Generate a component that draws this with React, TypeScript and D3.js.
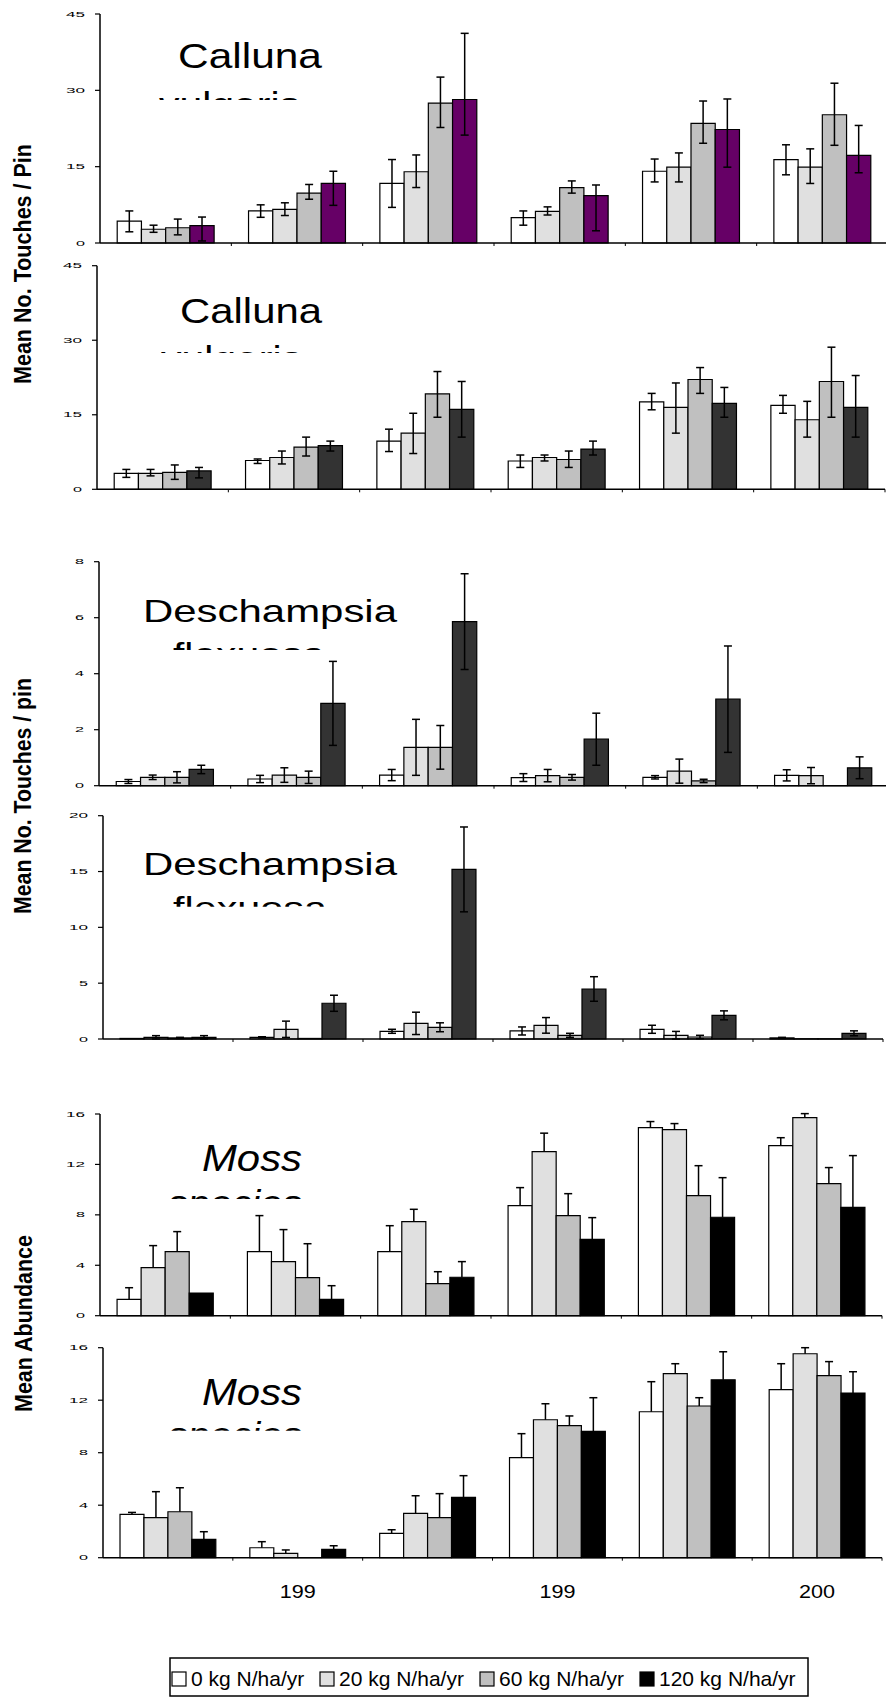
import React from "react";
import * as d3 from "d3";

const width = 886;
const height = 1697;
const font = "'Liberation Sans', Arial, sans-serif";

// six sampling dates, only some labelled on the bottom axis
const categories = ["d1", "d2", "d3", "d4", "d5", "d6"];
const xLabels = ["", "199", "", "199", "", "200"];
const treatments = ["0 kg N/ha/yr", "20 kg N/ha/yr", "60 kg N/ha/yr", "120 kg N/ha/yr"];

// Calluna vulgaris (top)
const callunaAMean = [
  [4.3, 6.3, 11.7, 5.0, 14.1, 16.4],
  [2.7, 6.6, 14.0, 6.2, 14.9, 14.9],
  [3.0, 9.8, 27.5, 10.9, 23.5, 25.2],
  [3.4, 11.7, 28.2, 9.3, 22.3, 17.2],
];
const callunaAUp = [
  [2.0, 1.2, 4.7, 1.3, 2.4, 2.9],
  [0.8, 1.3, 3.3, 0.9, 2.8, 3.6],
  [1.7, 1.7, 5.1, 1.3, 4.4, 6.2],
  [1.7, 2.4, 13.0, 2.1, 6.0, 5.9],
];
const callunaADown = [
  [2.1, 1.25, 4.7, 1.5, 2.1, 3.0],
  [0.6, 1.2, 3.1, 0.7, 2.9, 3.2],
  [1.4, 1.2, 4.8, 1.1, 3.9, 6.0],
  [3.0, 4.3, 7.0, 6.9, 7.4, 3.4],
];

// Calluna vulgaris (second)
const callunaBMean = [
  [3.2, 5.8, 9.7, 5.7, 17.6, 16.9],
  [3.2, 6.4, 11.3, 6.4, 16.5, 14.0],
  [3.4, 8.5, 19.2, 6.0, 22.1, 21.7],
  [3.7, 8.8, 16.1, 8.1, 17.3, 16.5],
];
const callunaBUp = [
  [0.8, 0.3, 2.4, 1.2, 1.7, 2.0],
  [0.8, 1.3, 4.0, 0.5, 4.9, 3.7],
  [1.5, 2.0, 4.5, 1.7, 2.4, 6.9],
  [0.7, 0.9, 5.6, 1.6, 3.2, 6.4],
];
const callunaBDown = [
  [0.8, 0.6, 2.1, 1.3, 1.6, 1.6],
  [0.5, 1.3, 4.1, 0.7, 5.2, 3.5],
  [1.4, 1.8, 4.7, 1.6, 2.8, 7.2],
  [1.4, 1.1, 5.6, 1.2, 2.8, 6.0],
];

// Deschampsia flexuosa (first, 0-8)
const deschAMean = [
  [0.15, 0.24, 0.38, 0.29, 0.3, 0.37],
  [0.3, 0.38, 1.37, 0.36, 0.52, 0.36],
  [0.3, 0.3, 1.37, 0.3, 0.17, 0],
  [0.58, 2.94, 5.86, 1.66, 3.09, 0.64],
];
const deschAErr = [
  [0.07, 0.13, 0.2, 0.14, 0.06, 0.2],
  [0.08, 0.26, 1.0, 0.22, 0.43, 0.29],
  [0.2, 0.22, 0.78, 0.1, 0.06, 0],
  [0.15, 1.5, 1.71, 0.93, 1.9, 0.39],
];

// Deschampsia flexuosa (second, 0-20)
const deschBMean = [
  [0.05, 0.15, 0.69, 0.72, 0.87, 0.1],
  [0.15, 0.87, 1.4, 1.22, 0.33, 0.02],
  [0.1, 0.05, 1.05, 0.33, 0.18, 0.02],
  [0.15, 3.2, 15.19, 4.48, 2.12, 0.51],
];
const deschBErr = [
  [0, 0.05, 0.18, 0.36, 0.36, 0.05],
  [0.15, 0.73, 1.0, 0.7, 0.35, 0],
  [0.05, 0, 0.4, 0.18, 0.15, 0],
  [0.15, 0.72, 3.8, 1.1, 0.4, 0.22],
];

// Moss species (first)
const mossAMean = [
  [1.3, 5.08, 5.08, 8.73, 14.92, 13.49],
  [3.81, 4.29, 7.46, 13.02, 14.76, 15.71],
  [5.08, 3.02, 2.54, 7.94, 9.52, 10.48],
  [1.8, 1.3, 3.05, 6.06, 7.81, 8.6],
];
const mossAUp = [
  [0.92, 2.86, 2.06, 1.43, 0.48, 0.63],
  [1.75, 2.54, 0.98, 1.46, 0.48, 0.32],
  [1.59, 2.69, 0.95, 1.74, 2.38, 1.27],
  [0, 1.08, 1.24, 1.72, 3.14, 4.1],
];

// Moss species (second)
const mossBMean = [
  [3.3, 0.76, 1.86, 7.62, 11.12, 12.8],
  [3.05, 0.33, 3.38, 10.51, 14.02, 15.54],
  [3.5, 0, 3.05, 10.06, 11.56, 13.87],
  [1.4, 0.64, 4.6, 9.63, 13.56, 12.55],
];
const mossBUp = [
  [0.15, 0.46, 0.27, 1.83, 2.29, 1.98],
  [1.98, 0.26, 1.34, 1.22, 0.76, 0.46],
  [1.83, 0, 1.83, 0.74, 0.63, 1.07],
  [0.58, 0.27, 1.65, 2.56, 2.13, 1.62],
];

const ticks45 = [0, 15, 30, 45];
const ticks8 = [0, 2, 4, 6, 8];
const ticks20 = [0, 5, 10, 15, 20];
const ticks16 = [0, 4, 8, 12, 16];

const purpleFills = ["#ffffff", "#e0e0e0", "#c0c0c0", "#660066"];
const darkFills = ["#ffffff", "#e0e0e0", "#c0c0c0", "#333333"];
const blackFills = ["#ffffff", "#e0e0e0", "#c0c0c0", "#000000"];

const panels = [
  { mean: callunaAMean, up: callunaAUp, down: callunaADown, ticks: ticks45, fills: purpleFills,
    left: 100, right: 888, top: 14, bottom: 243,
    title: "Calluna", sub: "vulgaris", italic: false, fs: 35,
    tx: 178, tw: 144, ty: 68, sx: 159, sw: 141, clip: 100, sy: 117 },
  { mean: callunaBMean, up: callunaBUp, down: callunaBDown, ticks: ticks45, fills: darkFills,
    left: 97, right: 885, top: 265.7, bottom: 489.3,
    title: "Calluna", sub: "vulgaris", italic: false, fs: 35,
    tx: 180, tw: 142, ty: 323, sx: 161, sw: 141, clip: 353, sy: 371 },
  { mean: deschAMean, up: deschAErr, down: deschAErr, ticks: ticks8, fills: darkFills,
    left: 99, right: 889, top: 561.7, bottom: 785.7,
    title: "Deschampsia", sub: "flexuosa", italic: false, fs: 32,
    tx: 143, tw: 254, ty: 621.7, sx: 173, sw: 152, clip: 650, sy: 665 },
  { mean: deschBMean, up: deschBErr, down: deschBErr, ticks: ticks20, fills: darkFills,
    left: 103, right: 883, top: 815.7, bottom: 1039,
    title: "Deschampsia", sub: "flexuosa", italic: false, fs: 32,
    tx: 143, tw: 254, ty: 875, sx: 173, sw: 154, clip: 906.7, sy: 919 },
  { mean: mossAMean, up: mossAUp, down: null, ticks: ticks16, fills: blackFills,
    left: 100, right: 882, top: 1114, bottom: 1315.7,
    title: "Moss", sub: "species", italic: true, fs: 36,
    tx: 202, tw: 100, ty: 1170.7, sx: 168, sw: 134, clip: 1199, sy: 1216 },
  { mean: mossBMean, up: mossBUp, down: null, ticks: ticks16, fills: blackFills,
    left: 103, right: 882, top: 1347.7, bottom: 1557.7,
    title: "Moss", sub: "species", italic: true, fs: 36,
    tx: 202, tw: 100, ty: 1405, sx: 168, sw: 134, clip: 1430.7, sy: 1448 },
];

const Panel = ({ p, idx, last }) => {
  const x0 = d3.scaleBand().domain(categories).range([p.left, p.right])
    .paddingInner(0.262).paddingOuter(0.131);
  const x1 = d3.scaleBand().domain(d3.range(4)).range([0, x0.bandwidth()]);
  const y = d3.scaleLinear().domain([0, d3.max(p.ticks)]).range([p.bottom, p.top]);
  const step = x0.step();
  const clipId = `sub-clip-${idx}`;
  return (
    <g>
      <clipPath id={clipId}>
        <rect x={0} y={p.clip - 40} width={width} height={40} />
      </clipPath>
      <text x={p.tx} y={p.ty} fontSize={p.fs} fontStyle={p.italic ? "italic" : "normal"}
        textLength={p.tw} lengthAdjust="spacingAndGlyphs">{p.title}</text>
      <text x={p.sx} y={p.sy} fontSize={p.fs} fontStyle={p.italic ? "italic" : "normal"}
        textLength={p.sw} lengthAdjust="spacingAndGlyphs" clipPath={`url(#${clipId})`}>{p.sub}</text>

      {p.mean.map((series, s) => series.map((v, c) => {
        const bx = x0(categories[c]) + x1(s);
        const bw = x1.bandwidth();
        const yv = y(v);
        return (
          <path key={`b${s}-${c}`}
            d={`M${bx},${p.bottom}V${yv}H${bx + bw}V${p.bottom}Z`}
            fill={p.fills[s]} stroke="#000" strokeWidth={1.2} />
        );
      }))}

      {p.mean.map((series, s) => series.map((v, c) => {
        const up = p.up[s][c];
        const down = p.down ? p.down[s][c] : 0;
        if (!up && !down) return null;
        const cx = x0(categories[c]) + x1(s) + x1.bandwidth() / 2;
        const yt = y(v + up);
        const yb = y(Math.max(0, v - down));
        return (
          <g key={`e${s}-${c}`} stroke="#000" strokeWidth={1.5}>
            <line x1={cx} x2={cx} y1={yt} y2={p.down ? yb : y(v)} />
            <line x1={cx - 4} x2={cx + 4} y1={yt} y2={yt} />
            {p.down && <line x1={cx - 4} x2={cx + 4} y1={yb} y2={yb} />}
          </g>
        );
      }))}

      <line x1={p.left} x2={p.left} y1={p.top} y2={p.bottom} stroke="#000" strokeWidth={1.5} />
      <line x1={p.left} x2={p.right} y1={p.bottom} y2={p.bottom} stroke="#000" strokeWidth={1.5} />
      {p.ticks.map((t) => (
        <g key={`t${t}`}>
          <line x1={p.left - 5} x2={p.left} y1={y(t)} y2={y(t)} stroke="#000" strokeWidth={1.2} />
          <text x={p.left - 15} y={y(t) + 2.5} fontSize={7} textAnchor="end"
            textLength={String(t).length * 10 - 1} lengthAdjust="spacingAndGlyphs">{t}</text>
        </g>
      ))}
      {categories.map((c, i) => (
        <line key={`c${c}`} x1={p.left + step * (i + 1)} x2={p.left + step * (i + 1)}
          y1={p.bottom} y2={p.bottom + 3} stroke="#000" strokeWidth={1} />
      ))}
      {last && xLabels.map((lab, i) => lab ? (
        <text key={`xl${i}`} x={x0(categories[i]) + x0.bandwidth() / 2} y={1598} fontSize={19}
          textAnchor="middle" textLength={36} lengthAdjust="spacingAndGlyphs">{lab}</text>
      ) : null)}
    </g>
  );
};

const legendX = [172, 320, 480, 640];

const App = () => {
  return (
    <svg width={width} height={height} style={{ position: "absolute", left: 0, top: 0 }}
      fontFamily={font}>
      <rect width={width} height={height} fill="white" />
      {panels.map((p, i) => (
        <Panel key={i} p={p} idx={i} last={i === panels.length - 1} />
      ))}

      <text transform="translate(31,264) rotate(-90)" fontSize={23} fontWeight="bold"
        textAnchor="middle" textLength={240} lengthAdjust="spacingAndGlyphs">Mean No. Touches / Pin</text>
      <text transform="translate(31,796) rotate(-90)" fontSize={23} fontWeight="bold"
        textAnchor="middle" textLength={236} lengthAdjust="spacingAndGlyphs">Mean No. Touches / pin</text>
      <text transform="translate(32,1323.5) rotate(-90)" fontSize={23} fontWeight="bold"
        textAnchor="middle" textLength={177} lengthAdjust="spacingAndGlyphs">Mean Abundance</text>

      <rect x={170} y={1658} width={638} height={38} fill="white" stroke="#000" strokeWidth={1.5} />
      {treatments.map((t, i) => (
        <g key={t}>
          <rect x={legendX[i]} y={1672} width={14} height={14} fill={blackFills[i]}
            stroke="#000" strokeWidth={1.2} />
          <text x={legendX[i] + 19} y={1686} fontSize={21}>{t}</text>
        </g>
      ))}
    </svg>
  );
};

export default App;
